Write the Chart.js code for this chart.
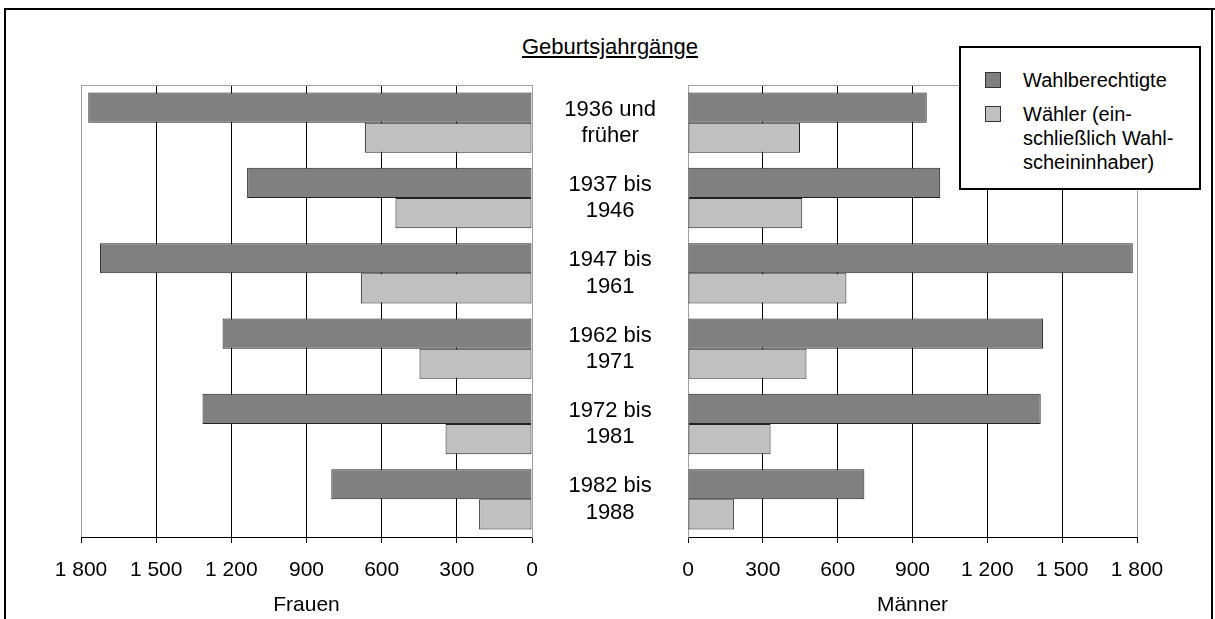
<!DOCTYPE html>
<html>
<head>
<meta charset="utf-8">
<script src="https://cdn.jsdelivr.net/npm/chart.js@4.4.1/dist/chart.umd.min.js"></script>
<style>
  body { margin:0; background:#fff; width:1215px; height:619px; overflow:hidden; position:relative;
         font-family:"Liberation Sans", Arial, sans-serif; color:#000; }
  .line { position:absolute; background:#000; }
  #subtitle { position:absolute; left:510px; width:200px; top:34px; text-align:center; font-size:22px; text-decoration:underline; }
  canvas { position:absolute; }
  #frauen { left:40px; top:60px; }
  #maenner { left:520px; top:60px; }
  #legend { position:absolute; left:959px; top:46px; width:238px; height:140px; border:2px solid #000; background:#fff; }
  #legend .item { position:absolute; left:24px; font-size:20px; line-height:24px; }
  #legend .box { position:absolute; left:0; top:4px; width:14px; height:14px; border:1px solid #333; }
  #legend .txt { position:absolute; left:38px; white-space:pre; }
</style>
</head>
<body>
<div class="line" style="left:4px;right:0;top:8px;height:2px"></div>
<div class="line" style="left:4px;width:2px;top:8px;bottom:0"></div>
<div class="line" style="left:1211px;width:2px;top:8px;bottom:0"></div>
<div id="subtitle">Geburtsjahrgänge</div>
<canvas id="frauen" width="520" height="559"></canvas>
<canvas id="maenner" width="695" height="559"></canvas>
<div id="legend"></div>
<script>
// Geburtsjahrgänge (zweizeilig)
var jahrgaenge = [["1936 und","früher"],["1937 bis","1946"],["1947 bis","1961"],
                  ["1962 bis","1971"],["1972 bis","1981"],["1982 bis","1988"]];
var frauenBerechtigte = [1771, 1137, 1724, 1235, 1315, 801];
var frauenWaehler     = [667, 545, 683, 449, 345, 211];
var maennerBerechtigte = [957, 1011, 1783, 1423, 1414, 707];
var maennerWaehler     = [449, 458, 635, 475, 331, 185];
var serien = ["Wahlberechtigte", "Wähler (ein-\nschließlich Wahl-\nscheininhaber)"];
var farben = ["#808080", "#c0c0c0"];
var achseMax = 1800;
var schritt = 300;

var grau = "#a0a0a0";

function zahl(v){
  return String(v).replace(/\B(?=(\d{3})+(?!\d))/g, " ");
}

// legend
var leg = document.getElementById("legend");
var tops = [20, 54];
for (var i=0;i<serien.length;i++){
  var it = document.createElement("div");
  it.className = "item";
  it.style.top = tops[i] + "px";
  it.innerHTML = '<div class="box" style="background:'+farben[i]+'"></div><div class="txt">'+serien[i]+'</div>';
  leg.appendChild(it);
}

// gray top border of plot area
var rahmen = {
  id: "rahmen",
  beforeDatasetsDraw: function(chart){
    var a = chart.chartArea, c = chart.ctx;
    c.save();
    c.strokeStyle = grau;
    c.lineWidth = 1;
    c.beginPath();
    c.moveTo(a.left, a.top + 0.5);
    c.lineTo(a.right, a.top + 0.5);
    c.stroke();
    c.restore();
  }
};

function machChart(id, berechtigte, waehler, links){
  var xAchse = {
    type: "linear",
    reverse: links,
    min: 0,
    max: achseMax,
    ticks: { stepSize: schritt, color: "#000", font: { size: 21, family: "'Liberation Sans', Arial" }, padding: 15,
             callback: function(v){ return zahl(v); } },
    grid: {
      color: function(ctx){ return (ctx.tick && (ctx.tick.value === 0 || ctx.tick.value === achseMax)) ? grau : "#000"; },
      tickColor: "#000", tickLength: 6, lineWidth: 1
    },
    border: { color: "#000", width: 1 },
    title: { display: true, text: links ? "Frauen" : "Männer", color: "#000",
             font: { size: 21, family: "'Liberation Sans', Arial" }, padding: { top: 0, bottom: 1 } },
    afterFit: function(s){ s.height = 82; s.paddingLeft = 0; s.paddingRight = 0; }
  };
  var yAchse = {
    type: "category",
    position: links ? "right" : "left",
    grid: { display: false, drawTicks: false },
    border: { color: grau, width: 1 },
    ticks: links ? { display: false } : { color: "#000", crossAlign: "center", padding: 32,
             font: { size: 22, family: "'Liberation Sans', Arial", lineHeight: 1.2 } },
    afterFit: function(s){ s.width = links ? 0 : 156; s.paddingTop = 0; s.paddingBottom = 0; }
  };
  return new Chart(document.getElementById(id), {
    type: "bar",
    data: {
      labels: jahrgaenge,
      datasets: [
        { label: serien[0], data: berechtigte, backgroundColor: farben[0], borderColor: "#222", borderWidth: 1, borderSkipped: false },
        { label: serien[1], data: waehler, backgroundColor: farben[1], borderColor: "#222", borderWidth: 1, borderSkipped: false }
      ]
    },
    options: {
      indexAxis: "y",
      responsive: false,
      animation: false,
      categoryPercentage: 0.8,
      barPercentage: 1.0,
      layout: { padding: links ? { left: 41, right: 28, top: 25, bottom: 0 } : { left: 12, right: 78, top: 25, bottom: 0 } },
      plugins: { legend: { display: false }, tooltip: { enabled: false } },
      scales: { x: xAchse, y: yAchse }
    },
    plugins: [rahmen]
  });
}

machChart("frauen", frauenBerechtigte, frauenWaehler, true);
machChart("maenner", maennerBerechtigte, maennerWaehler, false);
</script>
</body>
</html>
